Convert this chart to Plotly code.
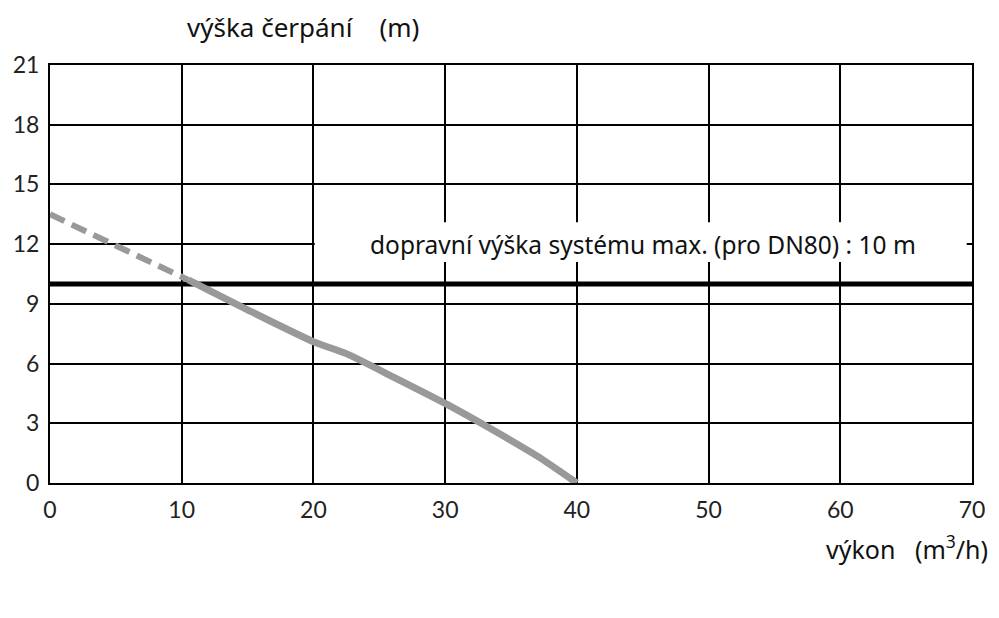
import plotly.graph_objects as go

# Pump curve
flow_dashed = [0, 10.5]
head_dashed = [13.5, 10.2]
flow_solid = [10.5, 15, 20, 22.5, 26, 30, 33, 37, 40]
head_solid = [10.2, 8.7, 7.1, 6.5, 5.35, 4.0, 2.9, 1.35, 0]

max_head = 10
x_ticks = [0, 10, 20, 30, 40, 50, 60, 70]
y_ticks = [0, 3, 6, 9, 12, 15, 18, 21]

font_main = "Noto Sans, Open Sans, sans-serif"
font_nums = "Lato, sans-serif"

fig = go.Figure()

# max system head line
fig.add_trace(go.Scatter(
    x=[x_ticks[0], x_ticks[-1]],
    y=[max_head, max_head],
    mode='lines',
    line=dict(color='black', width=5),
    hoverinfo='none'
))

# dashed part of the curve
fig.add_trace(go.Scatter(
    x=flow_dashed,
    y=head_dashed,
    mode='lines',
    line=dict(color='#999999', width=6, dash='16px,8px'),
    hoverinfo='none'
))

# solid part of the curve
fig.add_trace(go.Scatter(
    x=flow_solid,
    y=head_solid,
    mode='lines',
    line=dict(color='#999999', width=7, shape='spline', smoothing=0.6),
    hoverinfo='none'
))

# white box behind the label, hiding the grid
fig.add_shape(
    type='rect', xref='x', yref='y',
    x0=20.1, x1=69.6, y0=11.1, y1=13.1,
    fillcolor='white', line=dict(width=0), layer='between'
)

fig.add_annotation(
    x=0.643, y=12, xref='paper', yref='y',
    text="dopravní výška systému max. (pro DN80) : 10 m",
    showarrow=False,
    font=dict(family=font_main, size=24.5, color='#111111')
)

# axis titles
fig.add_annotation(
    x=0.146, y=1, xref='paper', yref='paper',
    xanchor='left', yanchor='bottom', yshift=18,
    text="výška čerpání    (m)",
    showarrow=False,
    font=dict(family=font_main, size=26, color='#111111')
)
fig.add_annotation(
    x=1.0195, y=-0.155, xref='paper', yref='paper',
    xanchor='right', yanchor='middle',
    text="výkon   (m<sup>3</sup>/h)",
    showarrow=False,
    font=dict(family=font_main, size=25, color='#111111')
)

# Update layout
fig.update_layout(
    width=999, height=618,
    margin=dict(l=42, r=35, t=57, b=143),
    plot_bgcolor='white',
    paper_bgcolor='white',
    showlegend=False,
    xaxis=dict(
        range=[0, 70], tickvals=x_ticks, automargin=False,
        showgrid=True, gridcolor='black', gridwidth=1.5,
        zeroline=False, showline=True, linecolor='black', linewidth=2,
        mirror=True, ticks='', ticklabelstandoff=5,
        tickfont=dict(family=font_nums, size=23, color='#222222')
    ),
    yaxis=dict(
        range=[0, 21], tickvals=y_ticks, automargin=False,
        showgrid=True, gridcolor='black', gridwidth=1.5,
        zeroline=False, showline=True, linecolor='black', linewidth=2,
        mirror=True, ticks='', ticklabelstandoff=4,
        tickfont=dict(family=font_nums, size=23, color='#222222')
    )
)

fig.write_html("out.html")
